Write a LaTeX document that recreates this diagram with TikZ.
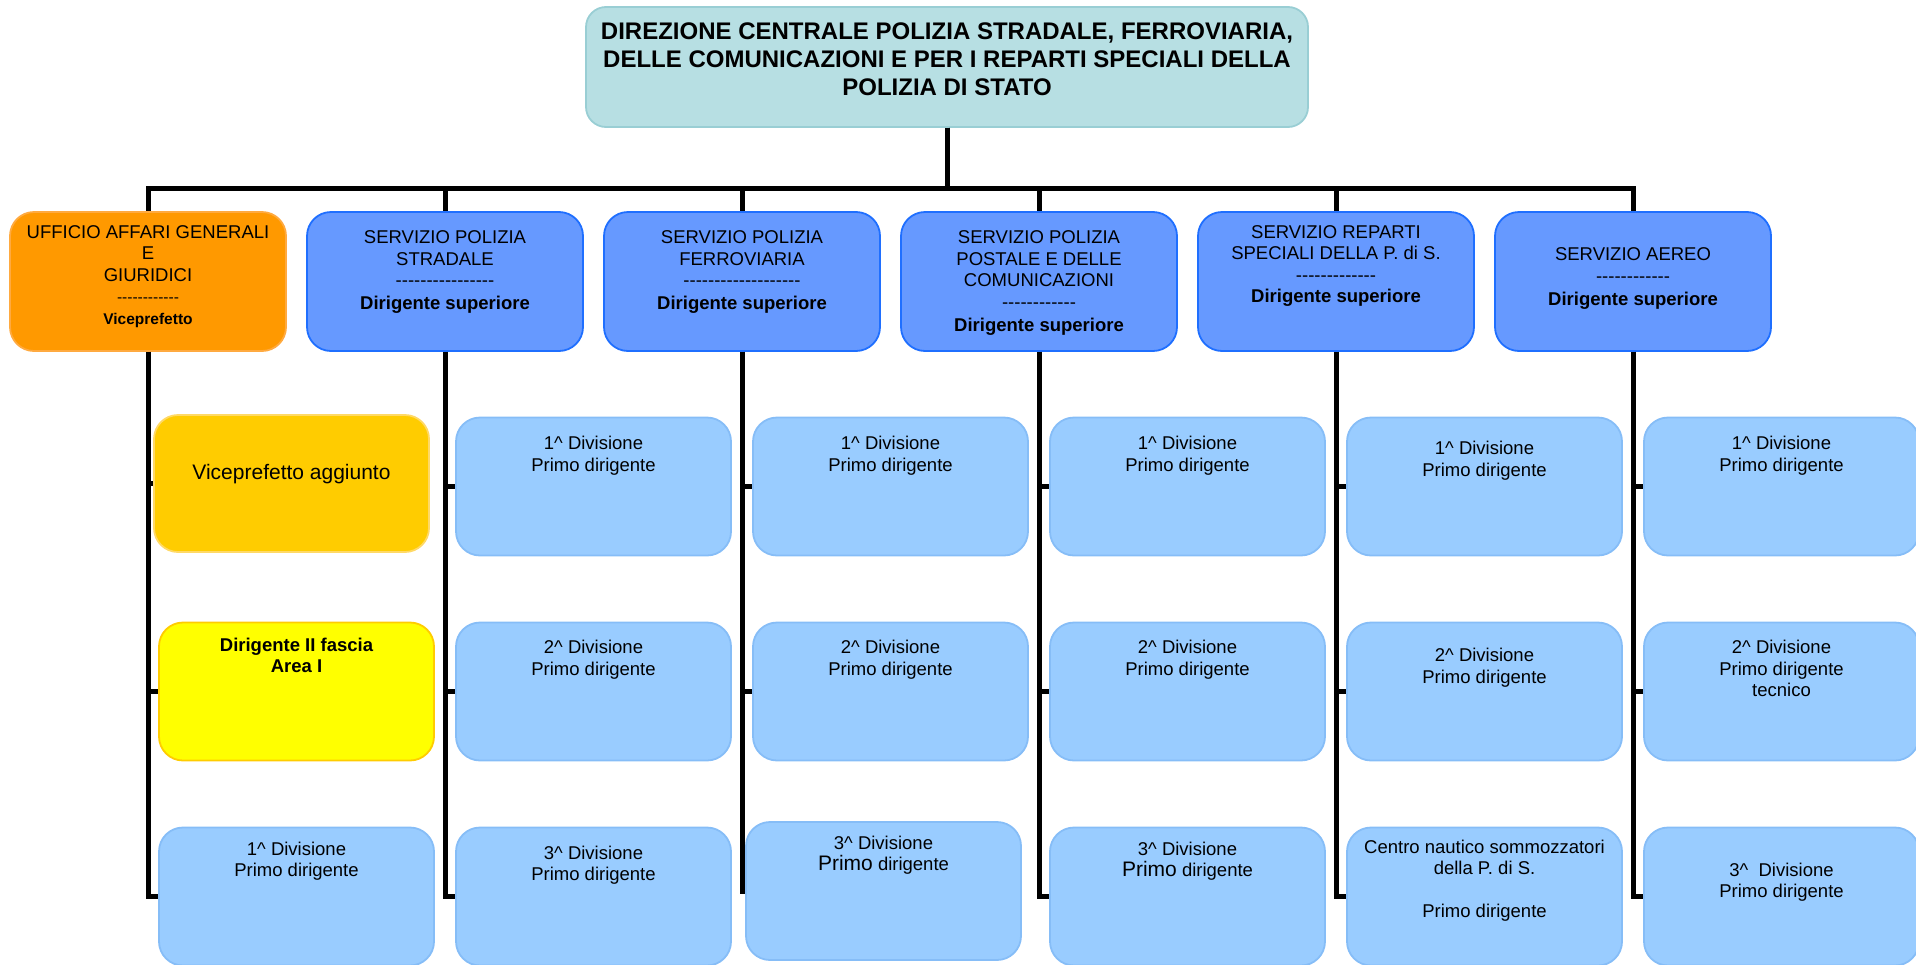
\documentclass[tikz,border=0pt]{standalone}
\usepackage{fontspec}
\setmainfont{Liberation Sans}[Ligatures=TeXOff]

\definecolor{dirfill}{HTML}{B7DFE3}
\definecolor{dirdraw}{HTML}{99CED4}
\definecolor{servfill}{HTML}{6699FF}
\definecolor{servdraw}{HTML}{1F6FFF}
\definecolor{uffill}{HTML}{FF9900}
\definecolor{ufdraw}{HTML}{FFAA40}
\definecolor{divfill}{HTML}{99CCFF}
\definecolor{divdraw}{HTML}{86BDF7}
\definecolor{vicefill}{HTML}{FFCC00}
\definecolor{vicedraw}{HTML}{FFD966}
\definecolor{areafill}{HTML}{FFFF00}
\definecolor{areadraw}{HTML}{FFCC00}

\newcommand\txtnormal{\fontsize{18.5}{21.5}\selectfont}
\newcommand\txttitle{\fontsize{24}{28}\selectfont\bfseries}
\newcommand\txtbig{\fontsize{21}{21.5}\selectfont}
\newcommand\txtsmall{\fontsize{15.5}{21.5}\selectfont}
\newcommand\circum{\textasciicircum}

\begin{document}
\begin{tikzpicture}[
  x=1pt, y=1pt,
  node distance=297pt,
  topalign/.style n args={3}{inner sep=0pt,
    execute at begin node={\begin{minipage}[c][#2][t]{#1}\centering\vspace*{#3}},
    execute at end node={\end{minipage}}},
  box/.style={rectangle, rounded corners=24pt, line width=1.8pt, font=\txtnormal},
  direzione/.style={box, fill=dirfill, draw=dirdraw, rounded corners=20pt, font=\txttitle, topalign={722pt}{120pt}{16pt}},
  ufficio/.style={box, fill=uffill, draw=ufdraw, topalign={276pt}{139pt}{#1}},
  ufficio/.default=13.5pt,
  servizio/.style={box, fill=servfill, draw=servdraw, topalign={276pt}{139pt}{#1}},
  servizio/.default=19pt,
  divisione/.style={box, fill=divfill, draw=divdraw, topalign={275pt}{138pt}{#1}},
  divisione/.default=19pt,
  vice/.style={box, fill=vicefill, draw=vicedraw, font=\txtbig, topalign={275pt}{137pt}{49pt}},
  area/.style={box, fill=areafill, draw=areadraw, topalign={275pt}{138pt}{15.5pt}},
  under/.style 2 args={below of=#1, node distance=#2, xshift=148.5pt},
  link/.style={line width=5pt, black}
]
\useasboundingbox (0,0) rectangle (1916,-964);

% direzione centrale
\node[direzione] (dir) at (947,-67) {DIREZIONE CENTRALE POLIZIA STRADALE, FERROVIARIA,\\ DELLE COMUNICAZIONI E PER I REPARTI SPECIALI DELLA\\ POLIZIA DI STATO};

% uffici e servizi
\node[ufficio] (s1) at (148,-281.5) {UFFICIO AFFARI GENERALI\\ E\\ GIURIDICI\\ {\txtsmall ------------}\\ {\txtsmall\bfseries Viceprefetto}};
\node[servizio, right of=s1] (s2) {SERVIZIO POLIZIA\\ STRADALE\\ ----------------\\[1.5pt] \textbf{Dirigente superiore}};
\node[servizio, right of=s2] (s3) {SERVIZIO POLIZIA\\ FERROVIARIA\\ -------------------\\[1.5pt] \textbf{Dirigente superiore}};
\node[servizio, right of=s3] (s4) {SERVIZIO POLIZIA\\ POSTALE E DELLE\\ COMUNICAZIONI\\ ------------\\[1.5pt] \textbf{Dirigente superiore}};
\node[servizio=13.5pt, right of=s4] (s5) {SERVIZIO REPARTI\\ SPECIALI DELLA P. di S.\\ -------------\\ \textbf{Dirigente superiore}};
\node[servizio=36pt, right of=s5] (s6) {SERVIZIO AEREO\\ ------------\\[1.5pt] \textbf{Dirigente superiore}};

% divisioni
\node[vice, under={s1}{202pt}, xshift=-5pt] (d11) {Viceprefetto aggiunto};
\node[area, under={s1}{410pt}] (d12) {\textbf{Dirigente II fascia\\ Area I}};
\node[divisione=14.5pt, under={s1}{615pt}] (d13) {1\circum{} Divisione\\ Primo dirigente};

\node[divisione, under={s2}{205pt}] (d21) {1\circum{} Divisione\\ Primo dirigente};
\node[divisione=18pt, under={s2}{410pt}] (d22) {2\circum{} Divisione\\ Primo dirigente};
\node[divisione=18.5pt, under={s2}{615pt}] (d23) {3\circum{} Divisione\\ Primo dirigente};

\node[divisione, under={s3}{205pt}] (d31) {1\circum{} Divisione\\ Primo dirigente};
\node[divisione=18pt, under={s3}{410pt}] (d32) {2\circum{} Divisione\\ Primo dirigente};
\node[divisione=14pt, under={s3}{609.5pt}, xshift=-7pt] (d33) {3\circum{} Divisione\\ {\txtbig Primo} dirigente};

\node[divisione, under={s4}{205pt}] (d41) {1\circum{} Divisione\\ Primo dirigente};
\node[divisione=18pt, under={s4}{410pt}] (d42) {2\circum{} Divisione\\ Primo dirigente};
\node[divisione=14.5pt, under={s4}{615pt}] (d43) {3\circum{} Divisione\\ {\txtbig Primo} dirigente};

\node[divisione=24pt, under={s5}{205pt}] (d51) {1\circum{} Divisione\\ Primo dirigente};
\node[divisione=26pt, under={s5}{410pt}] (d52) {2\circum{} Divisione\\ Primo dirigente};
\node[divisione=12.5pt, under={s5}{615pt}] (d53) {Centro nautico sommozzatori\\ della P. di S.\\[21.5pt] Primo dirigente};

\node[divisione, under={s6}{205pt}] (d61) {1\circum{} Divisione\\ Primo dirigente};
\node[divisione=18pt, under={s6}{410pt}] (d62) {2\circum{} Divisione\\ Primo dirigente\\ tecnico};
\node[divisione=35.5pt, under={s6}{615pt}] (d63) {3\circum~ Divisione\\ Primo dirigente};

% collegamenti
\foreach \s in {s1,s2,s3,s4,s5,s6}
  \draw[link] (dir.south) -- ++(0,-61) -| (\s.north);
\foreach \c in {1,...,6}
  \foreach \r in {1,2,3}
    \draw[link] (s\c.south) |- (d\c\r.west);
\end{tikzpicture}
\end{document}
